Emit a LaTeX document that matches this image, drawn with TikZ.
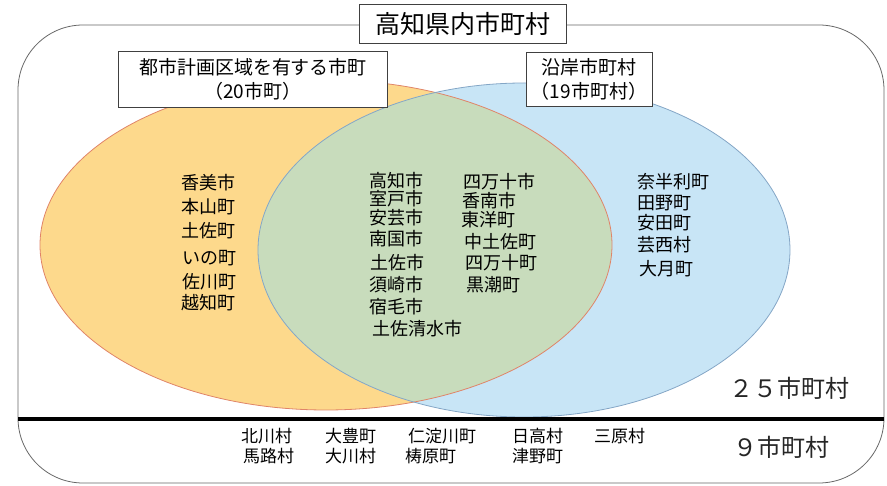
\documentclass[tikz,border=0pt]{standalone}
\usepackage{fontspec}
\usepackage{xcolor}
\usepackage{tikz}
\usetikzlibrary{shapes,positioning}
\newfontfamily\jpfont{Noto Sans CJK JP}

\definecolor{orangefill}{HTML}{FDD98C}
\definecolor{orangeline}{HTML}{E08468}
\definecolor{bluefill}{HTML}{C8E5F6}
\definecolor{blueline}{HTML}{84A6C6}
\definecolor{greenfill}{HTML}{C8DCBC}

\begin{document}
\begin{tikzpicture}[x=1pt, y=-1pt,
    frame/.style={draw=black!60, line width=0.8pt, rounded corners=65pt},
    titlebox/.style={draw=black!75, fill=white, line width=0.8pt, font=\jpfont\fontsize{25}{28}\selectfont},
    setbox/.style={draw=black!75, fill=white, line width=0.8pt, align=center, inner sep=0pt, font=\jpfont\fontsize{19}{24}\selectfont},
    town/.style={anchor=west, inner sep=0pt, font=\jpfont\fontsize{18}{20}\selectfont},
    rest/.style={anchor=west, inner sep=0pt, font=\jpfont\fontsize{17}{19}\selectfont},
    count/.style={anchor=west, inner sep=0pt, text=black!85, font=\jpfont\fontsize{24}{26}\selectfont}
  ]
    \useasboundingbox (0,0) rectangle (887,486);

    % Frame
    \draw[frame] (18,25) rectangle (884,483);

    % Sets
    \fill[orangefill] (326,245) ellipse [x radius=286pt, y radius=165pt];
    \fill[bluefill] (524,250) ellipse [x radius=266pt, y radius=167pt];
    \begin{scope}
      \clip (326,245) ellipse [x radius=286pt, y radius=165pt];
      \fill[greenfill] (524,250) ellipse [x radius=266pt, y radius=167pt];
    \end{scope}
    \draw[orangeline, line width=0.8pt] (326,245) ellipse [x radius=286pt, y radius=165pt];
    \draw[blueline, line width=0.8pt] (524,250) ellipse [x radius=266pt, y radius=167pt];

    % Divider
    \draw[line width=4pt] (18,419) -- (884,419);

    % Headers
    \node[titlebox, minimum width=207pt, minimum height=39pt] (title) at (463,24) {高知県内市町村};
    \node[setbox, minimum width=269pt, minimum height=56pt] (cityplan) at (253,79) {都市計画区域を有する市町\\（20市町）};
    \node[setbox, minimum width=126pt, minimum height=54pt] (coastal) at (589,79) {沿岸市町村\\（19市町村）};

    % City planning only
    \node[town] (kami) at (181,183) {香美市};
    \node[town] (motoyama) at (181,207) {本山町};
    \node[town] (tosacho) at (181,231) {土佐町};
    \node[town] (ino) at (182,258) {いの町};
    \node[town] (sakawa) at (182,282) {佐川町};
    \node[town] (ochi) at (181,303) {越知町};

    % Both
    \node[town] (kochi) at (369,181) {高知市};
    \node[town] (muroto) at (369,199) {室戸市};
    \node[town] (aki) at (369,218) {安芸市};
    \node[town] (nankoku) at (369,239) {南国市};
    \node[town] (tosashi) at (370,263) {土佐市};
    \node[town] (susaki) at (369,285) {須崎市};
    \node[town] (sukumo) at (369,307) {宿毛市};
    \node[town] (tosashimizu) at (372,329) {土佐清水市};

    \node[town] (shimantoshi) at (463,182) {四万十市};
    \node[town] (konan) at (462,201) {香南市};
    \node[town] (toyo) at (461,220) {東洋町};
    \node[town] (nakatosa) at (464,242) {中土佐町};
    \node[town] (shimantocho) at (465,263) {四万十町};
    \node[town] (kuroshio) at (466,285) {黒潮町};

    % Coastal only
    \node[town] (nahari) at (637,182) {奈半利町};
    \node[town] (tano) at (637,203) {田野町};
    \node[town] (yasuda) at (637,223) {安田町};
    \node[town] (geisei) at (637,245) {芸西村};
    \node[town] (otsuki) at (639,269) {大月町};

    % Others
    \node[rest] (kitagawa) at (241,436) {北川村};
    \node[rest] (umaji) at (243,456) {馬路村};
    \node[rest] (otoyo) at (325,436) {大豊町};
    \node[rest] (okawa) at (325,456) {大川村};
    \node[rest] (niyodogawa) at (408,436) {仁淀川町};
    \node[rest] (yusuhara) at (405,456) {梼原町};
    \node[rest] (hidaka) at (512,436) {日高村};
    \node[rest] (tsuno) at (512,456) {津野町};
    \node[rest] (mihara) at (594,436) {三原村};

    % Counts
    \node[count] (upper) at (729,388) {２５市町村};
    \node[count] (lower) at (733,447) {９市町村};
\end{tikzpicture}
\end{document}
